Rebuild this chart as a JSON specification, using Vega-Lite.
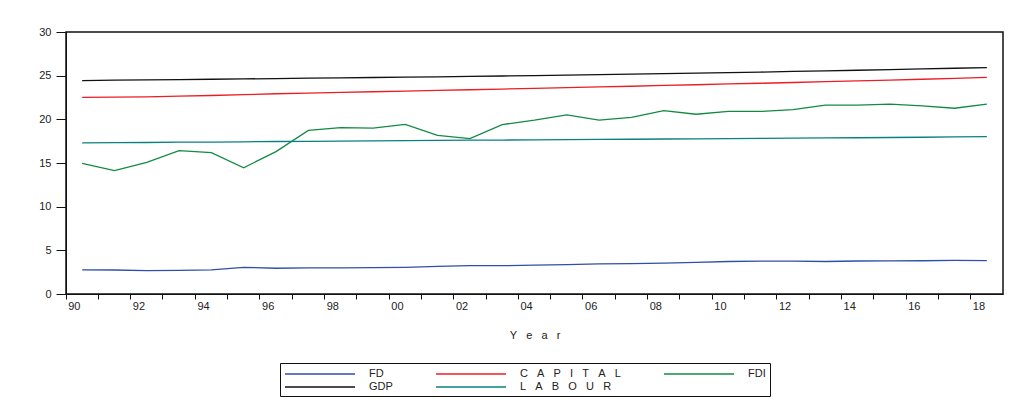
{
  "$schema": "https://vega.github.io/schema/vega-lite/v6.json",
  "autosize": {"type": "none"},
  "padding": {"left": 66, "top": 32, "right": 20, "bottom": 123},
  "width": 937,
  "height": 262,
  "background": "white",
  "config": {
    "view": {"stroke": "#111111", "strokeWidth": 1.5},
    "font": "Liberation Sans",
    "axis": {"labelFont": "Liberation Sans", "titleFont": "Liberation Sans", "labelColor": "#222222", "titleColor": "#222222", "domainColor": "#111111", "tickColor": "#111111", "grid": false, "labelFontSize": 11, "titleFontSize": 11, "titleFontWeight": "normal", "tickWidth": 1},
    "legend": {"labelFont": "Liberation Sans", "labelFontSize": 11, "labelColor": "#222222"}
  },
  "data": {
    "values": [
      {"Year": 1990, "FD": 2.76, "CAPITAL": 22.52, "FDI": 14.97, "GDP": 24.44, "LABOUR": 17.30},
      {"Year": 1991, "FD": 2.75, "CAPITAL": 22.54, "FDI": 14.12, "GDP": 24.48, "LABOUR": 17.33},
      {"Year": 1992, "FD": 2.67, "CAPITAL": 22.58, "FDI": 15.08, "GDP": 24.52, "LABOUR": 17.35},
      {"Year": 1993, "FD": 2.70, "CAPITAL": 22.65, "FDI": 16.41, "GDP": 24.55, "LABOUR": 17.38},
      {"Year": 1994, "FD": 2.76, "CAPITAL": 22.73, "FDI": 16.18, "GDP": 24.59, "LABOUR": 17.40},
      {"Year": 1995, "FD": 3.05, "CAPITAL": 22.83, "FDI": 14.46, "GDP": 24.63, "LABOUR": 17.43},
      {"Year": 1996, "FD": 2.95, "CAPITAL": 22.93, "FDI": 16.30, "GDP": 24.67, "LABOUR": 17.46},
      {"Year": 1997, "FD": 2.98, "CAPITAL": 23.01, "FDI": 18.74, "GDP": 24.71, "LABOUR": 17.48},
      {"Year": 1998, "FD": 3.00, "CAPITAL": 23.08, "FDI": 19.05, "GDP": 24.75, "LABOUR": 17.51},
      {"Year": 1999, "FD": 3.03, "CAPITAL": 23.16, "FDI": 18.99, "GDP": 24.79, "LABOUR": 17.53},
      {"Year": 2000, "FD": 3.06, "CAPITAL": 23.24, "FDI": 19.43, "GDP": 24.83, "LABOUR": 17.56},
      {"Year": 2001, "FD": 3.17, "CAPITAL": 23.31, "FDI": 18.17, "GDP": 24.87, "LABOUR": 17.58},
      {"Year": 2002, "FD": 3.25, "CAPITAL": 23.39, "FDI": 17.79, "GDP": 24.91, "LABOUR": 17.61},
      {"Year": 2003, "FD": 3.24, "CAPITAL": 23.47, "FDI": 19.40, "GDP": 24.96, "LABOUR": 17.63},
      {"Year": 2004, "FD": 3.30, "CAPITAL": 23.55, "FDI": 19.90, "GDP": 25.01, "LABOUR": 17.65},
      {"Year": 2005, "FD": 3.37, "CAPITAL": 23.63, "FDI": 20.50, "GDP": 25.06, "LABOUR": 17.68},
      {"Year": 2006, "FD": 3.44, "CAPITAL": 23.71, "FDI": 19.90, "GDP": 25.11, "LABOUR": 17.70},
      {"Year": 2007, "FD": 3.48, "CAPITAL": 23.79, "FDI": 20.22, "GDP": 25.17, "LABOUR": 17.72},
      {"Year": 2008, "FD": 3.54, "CAPITAL": 23.88, "FDI": 21.00, "GDP": 25.23, "LABOUR": 17.75},
      {"Year": 2009, "FD": 3.62, "CAPITAL": 23.96, "FDI": 20.58, "GDP": 25.29, "LABOUR": 17.77},
      {"Year": 2010, "FD": 3.72, "CAPITAL": 24.05, "FDI": 20.90, "GDP": 25.35, "LABOUR": 17.79},
      {"Year": 2011, "FD": 3.76, "CAPITAL": 24.13, "FDI": 20.90, "GDP": 25.41, "LABOUR": 17.82},
      {"Year": 2012, "FD": 3.77, "CAPITAL": 24.22, "FDI": 21.10, "GDP": 25.48, "LABOUR": 17.84},
      {"Year": 2013, "FD": 3.72, "CAPITAL": 24.31, "FDI": 21.62, "GDP": 25.55, "LABOUR": 17.87},
      {"Year": 2014, "FD": 3.78, "CAPITAL": 24.40, "FDI": 21.62, "GDP": 25.62, "LABOUR": 17.89},
      {"Year": 2015, "FD": 3.80, "CAPITAL": 24.49, "FDI": 21.74, "GDP": 25.69, "LABOUR": 17.92},
      {"Year": 2016, "FD": 3.81, "CAPITAL": 24.59, "FDI": 21.54, "GDP": 25.77, "LABOUR": 17.95},
      {"Year": 2017, "FD": 3.84, "CAPITAL": 24.70, "FDI": 21.27, "GDP": 25.85, "LABOUR": 17.98},
      {"Year": 2018, "FD": 3.83, "CAPITAL": 24.81, "FDI": 21.74, "GDP": 25.93, "LABOUR": 18.02}
    ]
  },
  "transform": [
    {"fold": ["FD", "CAPITAL", "FDI", "GDP", "LABOUR"], "as": ["Series", "Value"]}
  ],
  "mark": {"type": "line", "strokeWidth": 1.3, "interpolate": "linear"},
  "encoding": {
    "x": {
      "field": "Year",
      "type": "ordinal",
      "scale": {"type": "band", "paddingInner": 0, "paddingOuter": 0},
      "axis": {
        "title": "Y\u00a0\u00a0\u00a0e\u00a0\u00a0\u00a0a\u00a0\u00a0\u00a0r",
        "titlePadding": 18,
        "bandPosition": 0,
        "labelAlign": "left",
        "labelAngle": 0,
        "labelOffset": -14,
        "labelPadding": 1,
        "labelOverlap": false,
        "tickSize": 5,
        "labelExpr": "datum.value % 2 == 0 ? substring(toString(datum.value), 2) : ''"
      }
    },
    "y": {
      "field": "Value",
      "type": "quantitative",
      "scale": {"domain": [0, 30], "nice": false},
      "axis": {"title": null, "values": [0, 5, 10, 15, 20, 25, 30], "tickSize": 10, "labelPadding": 5}
    },
    "color": {
      "field": "Series",
      "type": "nominal",
      "scale": {
        "domain": ["FD", "CAPITAL", "FDI", "GDP", "LABOUR"],
        "range": ["#2F4FA8", "#EE1C25", "#138A43", "#111111", "#0A8080"]
      },
      "legend": {
        "title": null,
        "orient": "none",
        "legendX": 214,
        "legendY": 331,
        "columns": 3,
        "direction": "horizontal",
        "symbolType": "M-1,0H10.667",
        "symbolSize": 144,
        "symbolStrokeWidth": 1.4,
        "labelOffset": 71,
        "columnPadding": 40,
        "rowPadding": 1,
        "padding": 4,
        "strokeColor": "#111111",
        "labelExpr": "datum.value == 'CAPITAL' ? 'C\u00a0\u00a0\u00a0A\u00a0\u00a0\u00a0P\u00a0\u00a0\u00a0I\u00a0\u00a0\u00a0T\u00a0\u00a0\u00a0A\u00a0\u00a0\u00a0L' : datum.value == 'LABOUR' ? 'L\u00a0\u00a0\u00a0A\u00a0\u00a0\u00a0B\u00a0\u00a0\u00a0O\u00a0\u00a0\u00a0U\u00a0\u00a0\u00a0R' : datum.value"
      }
    }
  }
}
